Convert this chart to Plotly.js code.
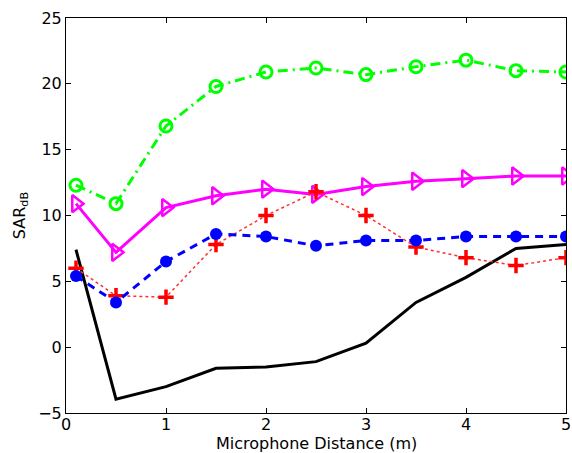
<!DOCTYPE html>
<html>
<head>
<meta charset="utf-8">
<script src="https://cdn.plot.ly/plotly-3.0.1.min.js"></script>
<style>html,body{margin:0;padding:0;background:#fff;}#chart{width:572px;height:453px;}</style>
</head>
<body>
<div id="chart"></div>
<script>
const distance = [0.1, 0.5, 1, 1.5, 2, 2.5, 3, 3.5, 4, 4.5, 5];
const sarGreen   = [12.3, 10.9, 16.8, 19.8, 20.9, 21.2, 20.7, 21.3, 21.8, 21.0, 20.9];
const sarMagenta = [10.9, 7.2, 10.6, 11.5, 12.0, 11.6, 12.2, 12.6, 12.8, 13.0, 13.0];
const sarBlue    = [5.4, 3.4, 6.5, 8.6, 8.4, 7.7, 8.1, 8.1, 8.4, 8.4, 8.4];
const sarRed     = [6.0, 3.9, 3.8, 7.8, 10.0, 11.8, 10.0, 7.6, 6.8, 6.2, 6.8];
const sarBlack   = [7.4, -3.95, -3.0, -1.6, -1.5, -1.1, 0.3, 3.4, 5.3, 7.5, 7.8];
const xTicks = [0, 1, 2, 3, 4, 5];
const yTicks = [-5, 0, 5, 10, 15, 20, 25];
const xTitle = 'Microphone Distance (m)';
const yTitle = 'SAR<sub>dB</sub>';

const traces = [
  {x: distance, y: sarBlack, mode: 'lines', line: {color: '#000000', width: 3}},
  {x: distance, y: sarMagenta, mode: 'lines+markers', line: {color: '#ff00ff', width: 3},
   marker: {symbol: 'triangle-right-open', size: 15, color: '#ff00ff', line: {width: 2.5, color: '#ff00ff'}}},
  {x: distance, y: sarRed, mode: 'lines+markers', line: {color: '#ff3030', width: 1.5, dash: 'dot'},
   marker: {symbol: 'cross-thin-open', size: 11, color: '#ff0000', line: {width: 3.5, color: '#ff0000'}}},
  {x: distance, y: sarBlue, mode: 'lines+markers', line: {color: '#0000ff', width: 3, dash: '8px,6px'},
   marker: {symbol: 'circle', size: 12, color: '#0000ff'}},
  {x: distance, y: sarGreen, mode: 'lines+markers', line: {color: '#00ff00', width: 3, dash: '10px,5px,2px,5px'},
   marker: {symbol: 'circle-open', size: 12, color: '#00ff00', line: {width: 3, color: '#00ff00'}}}
];

const layout = {
  width: 572, height: 453,
  margin: {l: 66, r: 6, t: 18, b: 40},
  paper_bgcolor: '#ffffff', plot_bgcolor: '#ffffff',
  showlegend: false,
  font: {family: 'DejaVu Sans, Liberation Sans, Arial, sans-serif', size: 16, color: '#000'},
  xaxis: {
    range: [0, 5], tickvals: xTicks, ticktext: xTicks.map(String),
    ticks: 'inside', ticklen: 5, tickcolor: '#000', tickwidth: 1,
    showline: true, linecolor: '#000', linewidth: 1, mirror: 'ticks',
    showgrid: false, zeroline: false, automargin: false,
    ticklabelstandoff: -3
  },
  yaxis: {
    range: [-5, 25], tickvals: yTicks, ticktext: yTicks.map(v => v < 0 ? '\u2212' + Math.abs(v) : String(v)),
    ticks: 'inside', ticklen: 5, tickcolor: '#000', tickwidth: 1,
    showline: true, linecolor: '#000', linewidth: 1, mirror: 'ticks',
    showgrid: false, zeroline: false, automargin: false,
    title: {text: yTitle, font: {size: 16}, standoff: 8}
  },
  annotations: [{
    text: xTitle, xref: 'paper', yref: 'paper', x: 0.5, y: -0.076,
    xanchor: 'center', yanchor: 'middle', showarrow: false, borderpad: 0, font: {size: 16}
  }]
};

Plotly.newPlot('chart', traces, layout, {displayModeBar: false, staticPlot: true});
</script>
</body>
</html>
